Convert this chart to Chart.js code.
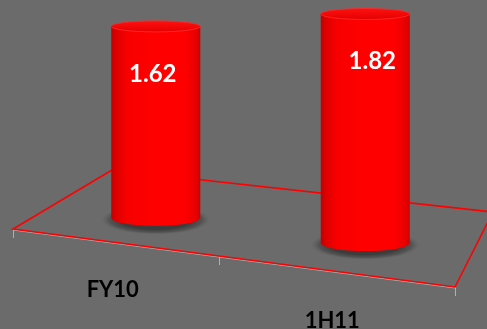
<!DOCTYPE html>
<html>
<head>
<meta charset="utf-8">
<script src="https://cdn.jsdelivr.net/npm/chart.js@4/dist/chart.umd.min.js"></script>
<style>
  html, body { margin: 0; padding: 0; background: #6b6b6b; }
  #wrap { width: 487px; height: 329px; position: relative; }
</style>
</head>
<body>
<div id="wrap"><canvas id="c" width="487" height="329"></canvas></div>
<script>
// Chart data
const categories = ['FY10', '1H11'];
const values = [1.62, 1.82];
const valueLabels = ['1.62', '1.82'];

const BG = '#6b6b6b';
const AXIS_MIN = 0.6;
const AXIS_MAX = 1.82;
const FONT = 'Lato, "Open Sans", "Liberation Sans", sans-serif';

// Perspective floor (drawn under the columns)
const floorPlugin = {
  id: 'floor',
  beforeDraw(chart) {
    const ctx = chart.ctx;
    ctx.save();
    ctx.fillStyle = BG;
    ctx.fillRect(0, 0, chart.width, chart.height);
    ctx.restore();
  },
  beforeDatasetsDraw(chart) {
    const ctx = chart.ctx;
    const bl = [112, 170], fl = [13, 229], fr = [455, 287], br = [493, 212];
    ctx.save();
    // front axis line and ticks
    ctx.strokeStyle = '#b0b0b0';
    ctx.lineWidth = 1;
    ctx.beginPath();
    ctx.moveTo(fl[0], fl[1] + 1);
    ctx.lineTo(fr[0], fr[1] + 1);
    [[13, 229], [219, 256], [455, 287]].forEach(p => {
      ctx.moveTo(p[0] + 0.5, p[1]);
      ctx.lineTo(p[0] + 0.5, p[1] + 9);
    });
    ctx.stroke();
    // red floor outline
    ctx.strokeStyle = '#ff0000';
    ctx.lineWidth = 1.6;
    ctx.beginPath();
    ctx.moveTo(bl[0], bl[1]);
    ctx.lineTo(fl[0], fl[1]);
    ctx.lineTo(fr[0], fr[1]);
    ctx.lineTo(br[0], br[1]);
    ctx.lineTo(bl[0], bl[1]);
    ctx.stroke();
    ctx.restore();
  }
};

function drawCylinder(ctx, cx, topY, botY, rx, ryTop, ryBot) {
  // soft shadow round the base
  ctx.save();
  ctx.translate(cx, botY + 2);
  ctx.scale(1, (ryBot + 7) / (rx + 11));
  const sg = ctx.createRadialGradient(0, 0, rx * 0.8, 0, 0, rx + 11);
  sg.addColorStop(0, 'rgba(40,40,40,0.7)');
  sg.addColorStop(0.55, 'rgba(55,55,55,0.45)');
  sg.addColorStop(1, 'rgba(100,100,100,0)');
  ctx.fillStyle = sg;
  ctx.beginPath();
  ctx.arc(0, 0, rx + 11, 0, Math.PI * 2);
  ctx.fill();
  ctx.restore();

  // body
  const g = ctx.createLinearGradient(cx - rx, 0, cx + rx, 0);
  g.addColorStop(0, '#c00000');
  g.addColorStop(0.05, '#dc0000');
  g.addColorStop(0.18, '#f80000');
  g.addColorStop(0.5, '#ff0000');
  g.addColorStop(0.82, '#ff0000');
  g.addColorStop(0.95, '#e80000');
  g.addColorStop(1, '#cc0000');
  ctx.save();
  ctx.fillStyle = g;
  ctx.beginPath();
  ctx.moveTo(cx - rx, topY);
  ctx.lineTo(cx - rx, botY);
  ctx.ellipse(cx, botY, rx, ryBot, 0, Math.PI, 0, true);
  ctx.lineTo(cx + rx, topY);
  ctx.closePath();
  ctx.fill();

  // top cap
  const tg = ctx.createLinearGradient(0, topY - ryTop, 0, topY + ryTop);
  tg.addColorStop(0, '#ff1010');
  tg.addColorStop(1, '#e40000');
  ctx.fillStyle = tg;
  ctx.beginPath();
  ctx.ellipse(cx, topY, rx, ryTop, 0, 0, Math.PI * 2);
  ctx.fill();
  ctx.strokeStyle = 'rgba(255,40,40,0.9)';
  ctx.lineWidth = 1;
  ctx.stroke();
  ctx.restore();
}

// Columns, value labels and category labels
const cylinderPlugin = {
  id: 'cylinders',
  afterDatasetsDraw(chart) {
    const ctx = chart.ctx;
    const meta = chart.getDatasetMeta(0);
    const n = meta.data.length;
    const lastX = meta.data[n - 1].x;
    meta.data.forEach((bar, i) => {
      const shift = (bar.x - lastX) * 0.12; // floor recedes to the left
      const rx = bar.width / 2;
      const top = bar.y + shift;
      const bot = bar.base + shift;
      drawCylinder(ctx, bar.x, top, bot, rx, 5.5, 8);

      ctx.save();
      ctx.fillStyle = '#ffffff';
      ctx.font = 'bold 24px ' + FONT;
      ctx.textAlign = 'center';
      ctx.textBaseline = 'middle';
      ctx.fillText(valueLabels[i], bar.x - 3 + i * 10, top + 48 - i * 1);

      ctx.fillStyle = '#000000';
      ctx.font = 'bold 22px ' + FONT;
      ctx.fillText(categories[i], bar.x - 43 + i * 10, bot + 72 + i * 6);
      ctx.restore();
    });
  }
};

new Chart(document.getElementById('c'), {
  type: 'bar',
  data: {
    labels: categories,
    datasets: [{
      data: values,
      base: AXIS_MIN,
      backgroundColor: 'rgba(0,0,0,0)',
      borderWidth: 0,
      barPercentage: 1,
      categoryPercentage: 0.425
    }]
  },
  options: {
    responsive: false,
    animation: false,
    layout: { padding: { left: 51, right: 17, top: 14, bottom: 86 } },
    plugins: { legend: { display: false }, tooltip: { enabled: false } },
    scales: {
      x: { display: false },
      y: { display: false, min: AXIS_MIN, max: AXIS_MAX }
    }
  },
  plugins: [floorPlugin, cylinderPlugin]
});
</script>
</body>
</html>
